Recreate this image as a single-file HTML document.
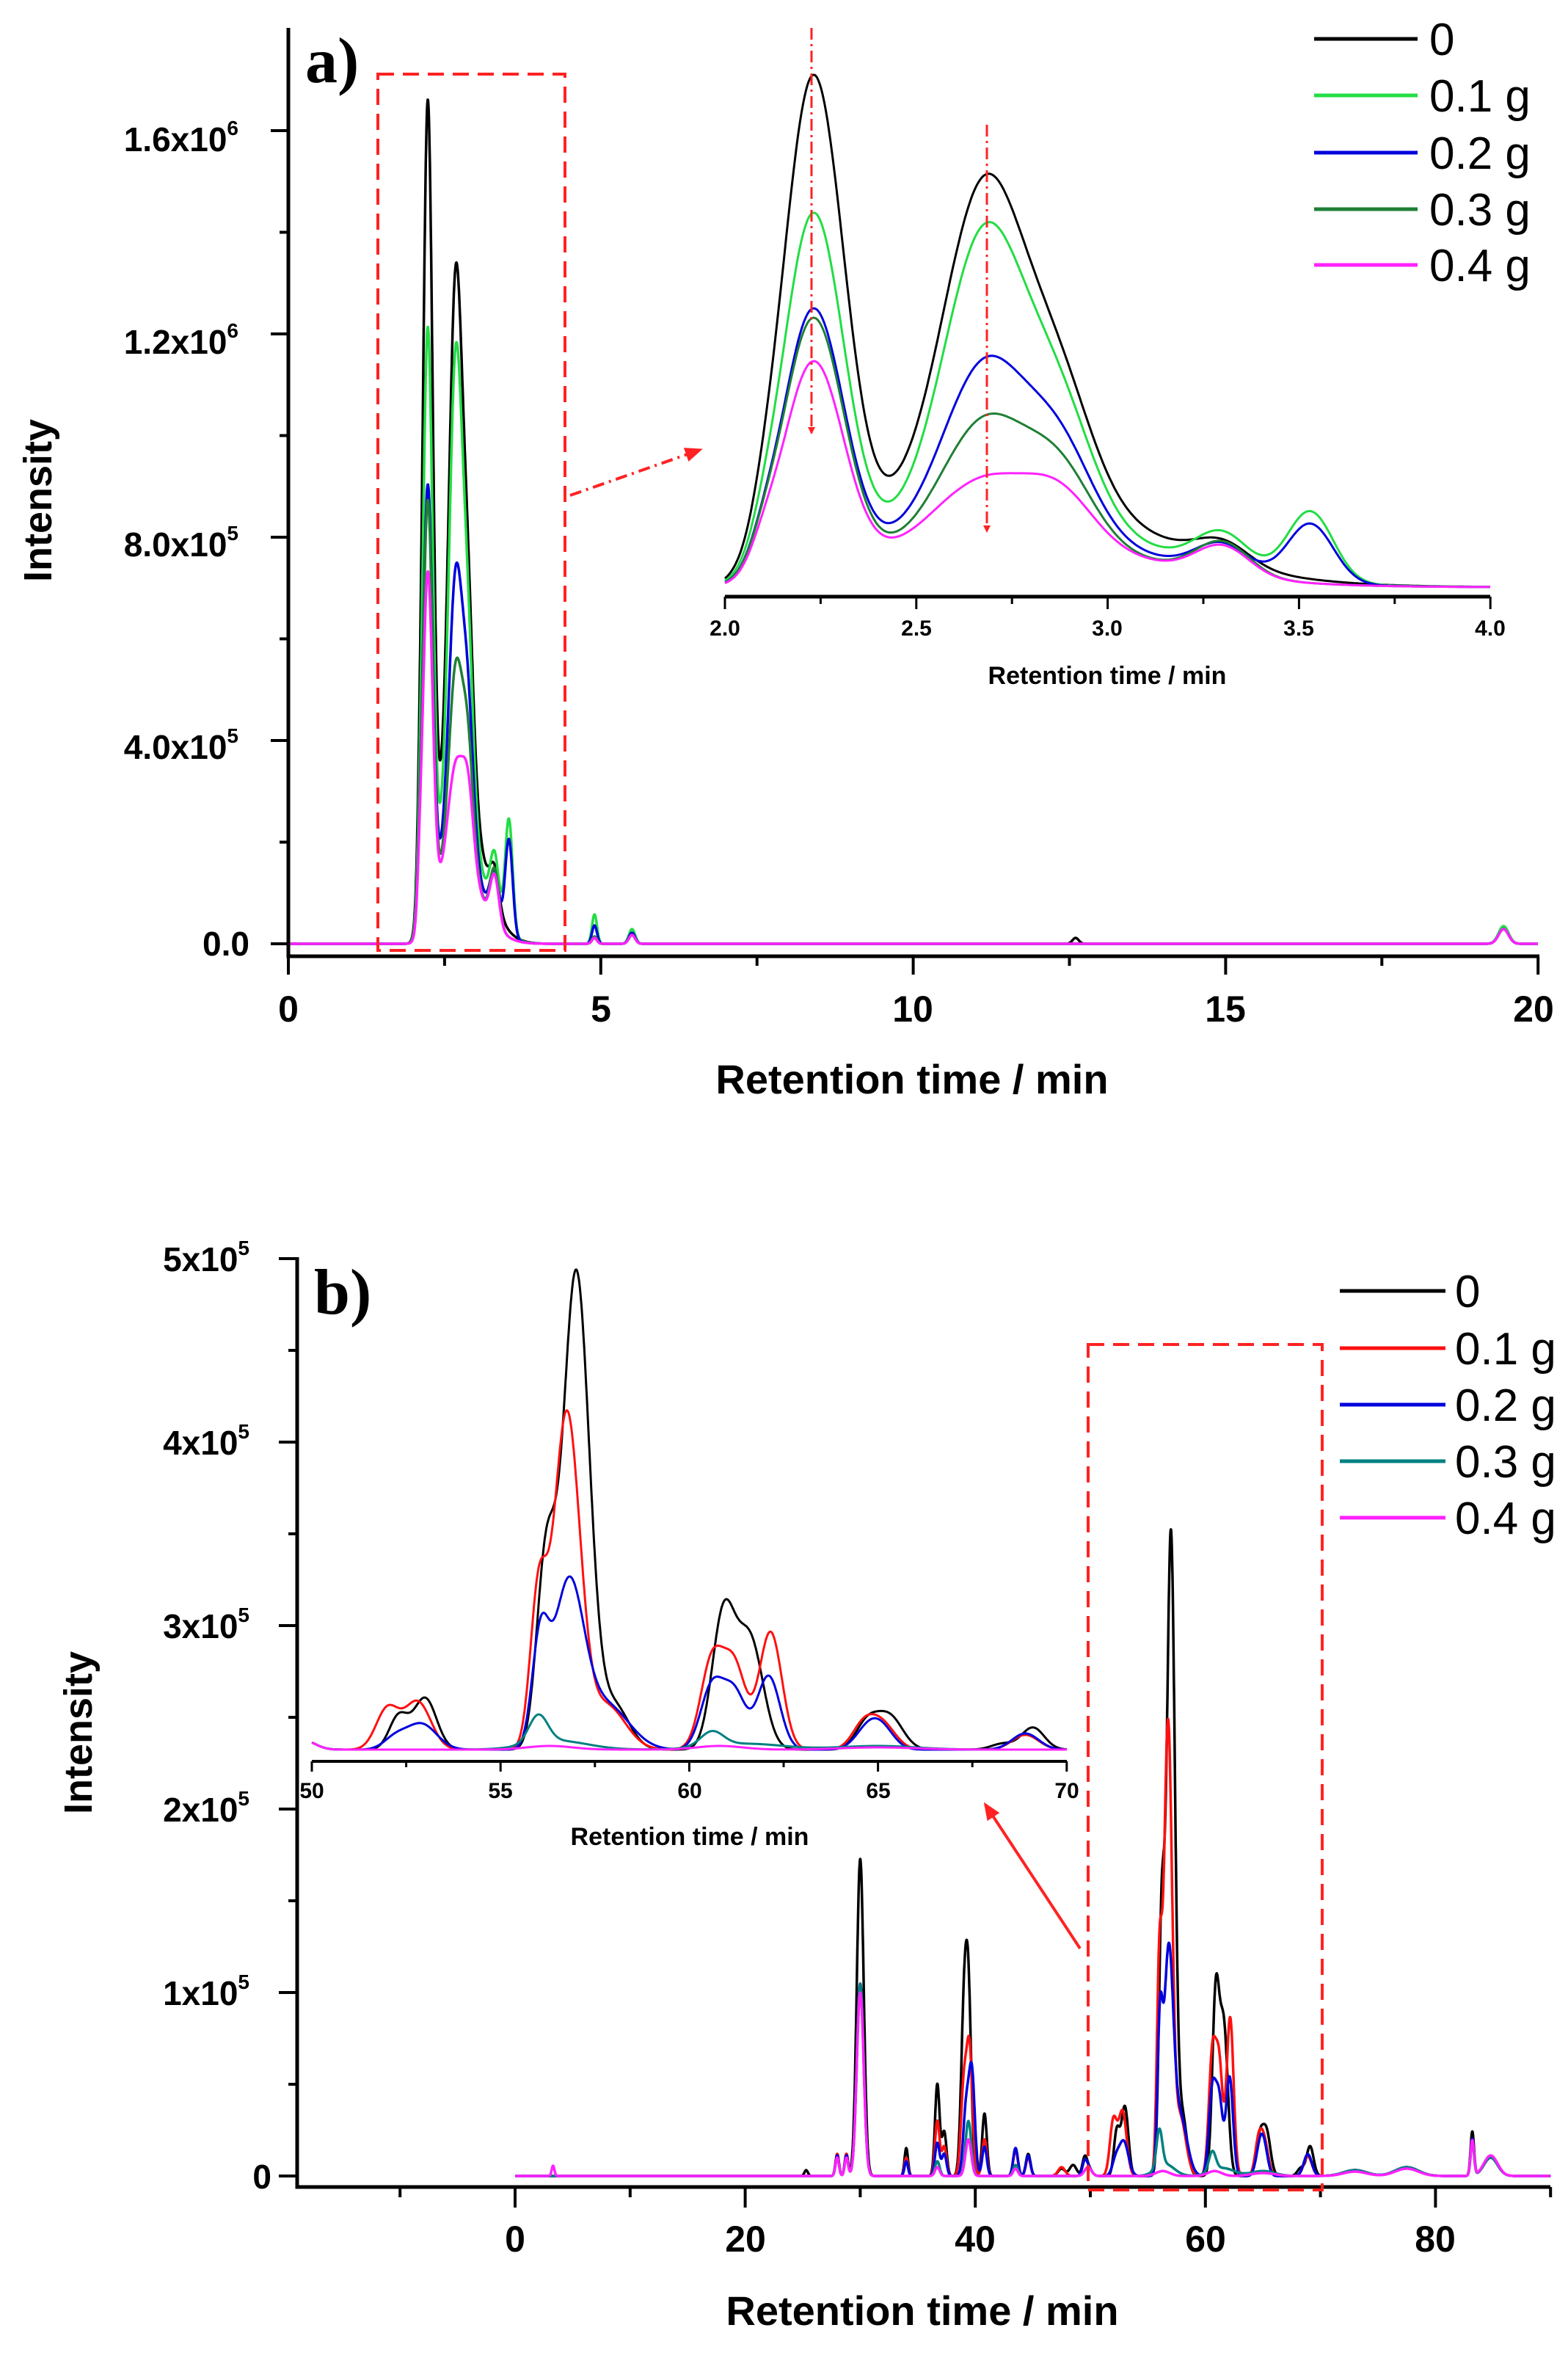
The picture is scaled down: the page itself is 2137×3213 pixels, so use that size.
<!DOCTYPE html>
<html><head><meta charset="utf-8"><style>
html,body{margin:0;padding:0;background:#fff}
svg{display:block}
text{font-family:"Liberation Sans",sans-serif}
</style></head><body>
<svg id="s" width="2137" height="3213" viewBox="0 0 2137 3213" xmlns="http://www.w3.org/2000/svg">
<defs>
<marker id="ah" markerWidth="10" markerHeight="10" refX="8" refY="5" orient="auto" markerUnits="userSpaceOnUse" viewBox="0 0 10 10"><path d="M0,0 L10,5 L0,10 z" fill="#f22"/></marker>
<marker id="ah2" markerWidth="24" markerHeight="24" refX="20" refY="12" orient="auto" markerUnits="userSpaceOnUse" viewBox="0 0 24 24"><path d="M0,2 L24,12 L0,22 z" fill="#f22"/></marker>
</defs>
<rect width="2137" height="3213" fill="#fff"/>
<g id="g"></g>
<g stroke="#000" stroke-width="5" fill="none">
<path d="M393,38 L393,1303 L2098,1303"/>
</g>
<text x="416" y="112" font-weight="bold" style="font-family:'Liberation Serif',serif" font-size="88">a)</text>
<g font-size="46" text-anchor="end" font-weight="bold">
<text x="340" y="1302">0.0</text>
<text x="325" y="1034">4.0x10<tspan font-size="28" dy="-22">5</tspan></text>
<text x="325" y="758">8.0x10<tspan font-size="28" dy="-22">5</tspan></text>
<text x="325" y="482">1.2x10<tspan font-size="28" dy="-22">6</tspan></text>
<text x="325" y="206">1.6x10<tspan font-size="28" dy="-22">6</tspan></text>
</g>
<g font-size="50" font-weight="bold" text-anchor="middle">
<text x="393" y="1392">0</text><text x="819" y="1392">5</text><text x="1244" y="1392">10</text><text x="1670" y="1392">15</text><text x="2090" y="1392">20</text>
<text x="1243" y="1490" font-size="56">Retention time / min</text>
<text transform="translate(70,682) rotate(-90)" font-size="54">Intensity</text>
</g>
<g stroke="#000" stroke-width="5" fill="none">
<path d="M405,1713 L405,2980 L2113,2980"/>
</g>
<text x="428" y="1790" font-weight="bold" style="font-family:'Liberation Serif',serif" font-size="88">b)</text>
<g font-size="46" font-weight="bold" text-anchor="end">
<text x="370" y="2982">0</text>
<text x="340" y="2732">1x10<tspan font-size="28" dy="-22">5</tspan></text>
<text x="340" y="2482">2x10<tspan font-size="28" dy="-22">5</tspan></text>
<text x="340" y="2232">3x10<tspan font-size="28" dy="-22">5</tspan></text>
<text x="340" y="1982">4x10<tspan font-size="28" dy="-22">5</tspan></text>
<text x="340" y="1732">5x10<tspan font-size="28" dy="-22">5</tspan></text>
</g>
<g font-size="50" font-weight="bold" text-anchor="middle">
<text x="702" y="3068">0</text><text x="1016" y="3068">20</text><text x="1329" y="3068">40</text><text x="1643" y="3068">60</text><text x="1956" y="3068">80</text>
<text x="1257" y="3168" font-size="56">Retention time / min</text>
<text transform="translate(125,2361) rotate(-90)" font-size="54">Intensity</text>
</g>
<g font-size="30" font-weight="bold" text-anchor="middle">
<text x="988" y="866">2.0</text><text x="1249" y="866">2.5</text><text x="1509" y="866">3.0</text><text x="1770" y="866">3.5</text><text x="2031" y="866">4.0</text>
<text x="1509" y="932" font-size="34">Retention time / min</text>
<text x="425" y="2450">50</text><text x="682" y="2450">55</text><text x="940" y="2450">60</text><text x="1197" y="2450">65</text><text x="1454" y="2450">70</text>
<text x="940" y="2514" font-size="34">Retention time / min</text>
</g>
<g font-size="62">
<text x="1948" y="75">0</text><text x="1948" y="152">0.1 g</text><text x="1948" y="230">0.2 g</text><text x="1948" y="307">0.3 g</text><text x="1948" y="383">0.4 g</text>
<text x="1983" y="1781">0</text><text x="1983" y="1859">0.1 g</text><text x="1983" y="1936">0.2 g</text><text x="1983" y="2013">0.3 g</text><text x="1983" y="2090">0.4 g</text>
</g>
<g stroke-width="5">
<line x1="1791" y1="53" x2="1932" y2="53" stroke="#000"/>
<line x1="1791" y1="130" x2="1932" y2="130" stroke="#22dd44"/>
<line x1="1791" y1="208" x2="1932" y2="208" stroke="#0000dd"/>
<line x1="1791" y1="285" x2="1932" y2="285" stroke="#1f7f35"/>
<line x1="1791" y1="361" x2="1932" y2="361" stroke="#ff22ff"/>
<line x1="1826" y1="1759" x2="1970" y2="1759" stroke="#000"/>
<line x1="1826" y1="1837" x2="1970" y2="1837" stroke="#ff1010"/>
<line x1="1826" y1="1914" x2="1970" y2="1914" stroke="#0000dd"/>
<line x1="1826" y1="1991" x2="1970" y2="1991" stroke="#008080"/>
<line x1="1826" y1="2068" x2="1970" y2="2068" stroke="#ff22ff"/>
</g>
<g fill="none" stroke="#f22" stroke-width="4">
<rect x="515" y="101" width="255" height="1194" stroke-dasharray="22 12"/>
<rect x="1483" y="1832" width="319" height="1152" stroke-dasharray="22 12"/>
<line x1="777" y1="675" x2="954" y2="613" stroke-dasharray="16 7 3 7" marker-end="url(#ah2)"/>
<line x1="1472" y1="2655" x2="1343" y2="2459" marker-end="url(#ah2)"/>
<line x1="1106" y1="38" x2="1106" y2="590" stroke-width="3" stroke-dasharray="16 6 3 6" marker-end="url(#ah)"/>
<line x1="1345" y1="170" x2="1345" y2="724" stroke-width="3" stroke-dasharray="16 6 3 6" marker-end="url(#ah)"/>
</g>
</svg>
<script>
(function(){
var NS="http://www.w3.org/2000/svg",g=document.getElementById('g');
function G(t,c,s,h){var d=(t-c)/s;return h*Math.exp(-0.5*d*d);}
function sum(t,L){var v=0;for(var i=0;i<L.length;i++)v+=G(t,L[i][0],L[i][1],L[i][2]);return v;}
function line(d,col,w){var p=document.createElementNS(NS,'path');p.setAttribute('d',d);p.setAttribute('fill','none');p.setAttribute('stroke',col);p.setAttribute('stroke-width',w);p.setAttribute('stroke-linejoin','round');g.appendChild(p);}
function ln(x1,y1,x2,y2,w){var p=document.createElementNS(NS,'line');p.setAttribute('x1',x1);p.setAttribute('y1',y1);p.setAttribute('x2',x2);p.setAttribute('y2',y2);p.setAttribute('stroke','#000');p.setAttribute('stroke-width',w||4);g.appendChild(p);}
function aModel(t,P){
 var bg=t<2.6?G(t,2.6,0.18,P[0]):G(t,2.6,0.4,P[0]);
 return bg+G(t,2.23,0.08,P[1])+G(t,2.68,0.1,P[2])+G(t,2.87,0.09,P[3])+G(t,3.3,0.07,P[4])+G(t,3.53,0.06,P[5])+G(t,2.1,0.035,22);
}
var A=[
 {c:'#000000',P:[164,678,385,150,30,0],x:[[4.9,.04,8],[5.5,.05,12],[12.6,.05,8],[19.45,.08,22]]},
 {c:'#22dd44',P:[124,495,358,150,50,95],x:[[4.9,.04,40],[5.5,.05,20],[19.45,.08,24]]},
 {c:'#0000dd',P:[97,368,205,120,40,80],x:[[4.9,.04,25],[5.5,.05,15],[19.45,.08,20]]},
 {c:'#1f7f35',P:[82,357,143,100,45,0],x:[[4.9,.04,10],[5.5,.05,12],[19.45,.08,20]]},
 {c:'#ff22ff',P:[81,298,65,70,40,0],x:[[4.9,.04,8],[5.5,.05,12],[19.45,.08,20]]}
];
A.forEach(function(s){
 var d='';for(var t=0;t<=20.0001;t+=0.005){var v=aModel(t,s.P)*1.648+sum(t,s.x);var X=393+t*85.15,Y=1286-v;d+=(d?'L':'M')+X.toFixed(1)+','+Y.toFixed(1);}
 line(d,s.c,3.5);
});
A.forEach(function(s){
 var d='';for(var t=2.0;t<=4.0001;t+=0.004){var v=aModel(t,s.P);var X=988+(t-2)*521.5,Y=800-v;d+=(d?'L':'M')+X.toFixed(1)+','+Y.toFixed(1);}
 line(d,s.c,3);
});
var base=[[49.8,.3,12]];
var B=[
 {c:'#000000',i:[[52.3,.25,45],[53.0,.3,70],[56.2,.25,250],[57.0,.35,650],[58.0,.4,60],[60.9,.3,180],[61.6,.35,150],[64.7,.3,35],[65.3,.35,45],[69.1,.3,30],[68.3,.3,8]],
  m:[[30,.3,432],[28,.15,30],[28.8,.15,30],[25.3,.15,8],[34,.15,38],[36.7,.2,125],[37.3,.2,60],[39,.25,200],[39.4,.25,240],[40.8,.2,85],[43.5,.2,38],[44.6,.2,30],[47.5,.3,10],[48.5,.3,15],[49.5,.2,20],[73,1,8],[77.5,1,12],[83.2,.15,60],[84.8,.6,25]]},
 {c:'#ff1010',i:[[52.0,.3,55],[52.8,.35,65],[56.0,.22,200],[56.75,.35,455],[57.8,.5,60],[60.6,.3,120],[61.2,.3,110],[62.15,.3,160],[64.6,.3,30],[65.1,.35,35],[68.9,.35,20]],
  m:[[30,.3,262],[28,.15,30],[28.8,.15,30],[34,.15,25],[36.7,.2,75],[37.3,.2,40],[39,.25,120],[39.5,.25,170],[40.8,.2,50],[43.5,.2,35],[44.6,.2,25],[47.5,.3,12],[49.5,.2,15],[73,1,8],[77.5,1,12],[83.2,.15,50],[84.8,.6,25]]},
 {c:'#0000dd',i:[[52.2,.3,15],[52.9,.4,35],[56.05,.22,140],[56.8,.4,220],[57.8,.6,60],[60.6,.3,85],[61.2,.3,75],[62.1,.3,100],[64.8,.35,35],[65.2,.3,15],[68.9,.35,22]],
  m:[[30,.3,262],[28,.15,28],[28.8,.15,28],[34,.15,20],[36.7,.2,45],[37.3,.2,30],[39.2,.25,90],[39.7,.25,140],[40.8,.2,40],[43.5,.2,38],[44.6,.2,28],[49.5,.2,15],[73,1,8],[77.5,1,12],[83.2,.15,50],[84.8,.6,25]]},
 {c:'#008080',i:[[56.0,.25,38],[56.5,.8,12],[60.6,.3,20],[61.5,1,8],[65,1,5]],
  m:[[30,.3,262],[28,.15,25],[28.8,.15,25],[36.7,.2,20],[39.4,.25,75],[43.5,.2,15],[73,1,8],[77.5,1,12],[83.2,.15,45],[84.8,.6,25]]},
 {c:'#ff22ff',i:[[56.3,.6,5],[60.8,.6,5],[65,1,3]],
  m:[[3.3,.12,14],[30,.3,250],[28,.15,25],[28.8,.15,25],[36.7,.2,12],[39.4,.25,50],[43.5,.2,10],[73,1,6],[77.5,1,10],[83.2,.15,48],[84.8,.6,28]]}
];
B.forEach(function(s){
 var d='';for(var t=0;t<=90.0001;t+=0.02){var v=sum(t,s.i)*1.347+sum(t,s.m)+sum(t,base);var X=702+t*15.68,Y=2965-v;d+=(d?'L':'M')+X.toFixed(1)+','+Y.toFixed(1);}
 line(d,s.c,3.5);
});
B.forEach(function(s){
 var d='';for(var t=50;t<=70.0001;t+=0.01){var v=sum(t,s.i)+sum(t,base);var X=425+(t-50)*51.45,Y=2384-v;d+=(d?'L':'M')+X.toFixed(1)+','+Y.toFixed(1);}
 line(d,s.c,3);
});
var i;
for(i=0;i<=8;i++){var y=1286-i*138.5;ln(393,y,i%2?381:369,y,4);}
for(i=0;i<=8;i++){var x=393+i*212.9;ln(x,1303,x,i%2?1316:1328,4);}
for(i=0;i<=10;i++){var y=2965-i*125;ln(405,y,i%2?393:380,y,4);}
for(i=-1;i<=9;i++){var x=702+i*156.8;ln(x,2980,x,i%2?2994:3008,4);}
ln(988,813,2031,813,5);
for(i=0;i<=8;i++){var x=988+i*130.4;ln(x,813,x,i%2?823:830,3);}
ln(425,2400,1454,2400,4);
for(i=0;i<=8;i++){var x=425+i*128.6;ln(x,2400,x,i%2?2408:2414,3);}
})();
</script>
</body></html>
